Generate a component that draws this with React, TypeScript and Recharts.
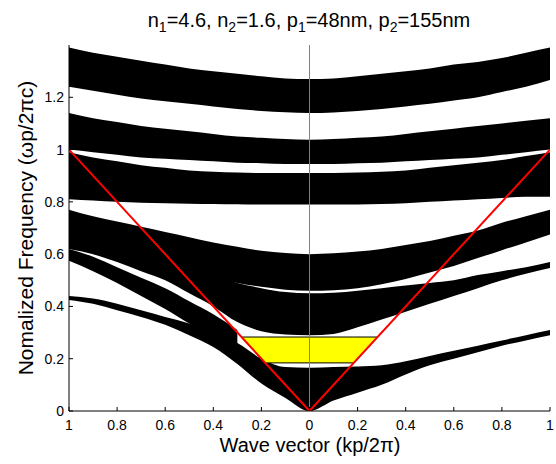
import React from 'react';
import {
  ComposedChart,
  Area,
  Line,
  XAxis,
  YAxis,
  ReferenceLine,
} from 'recharts';

// wave vector grid (left half of the plot is labelled with |k|)
const kGrid = [-1, -0.9, -0.8, -0.7, -0.6, -0.5, -0.4, -0.3, -0.2, -0.1, 0, 0.1, 0.2, 0.3, 0.4, 0.5, 0.6, 0.7, 0.8, 0.9, 1];

// band edges, one value per kGrid point (null = band absent)
const band1Lo = [1.24, 1.225, 1.21, 1.195, 1.185, 1.175, 1.165, 1.155, 1.148, 1.143, 1.14, 1.142, 1.148, 1.155, 1.165, 1.175, 1.188, 1.2, 1.22, 1.24, 1.266];
const band1Hi = [1.39, 1.37, 1.355, 1.34, 1.325, 1.31, 1.3, 1.29, 1.28, 1.272, 1.27, 1.272, 1.28, 1.29, 1.3, 1.31, 1.325, 1.335, 1.35, 1.37, 1.39];
const band2Lo = [1.0, 0.99, 0.98, 0.97, 0.965, 0.96, 0.955, 0.95, 0.948, 0.945, 0.945, 0.945, 0.948, 0.95, 0.955, 0.96, 0.965, 0.97, 0.98, 0.99, 1.0];
const band2Hi = [1.14, 1.12, 1.105, 1.09, 1.08, 1.07, 1.06, 1.05, 1.045, 1.04, 1.038, 1.04, 1.045, 1.05, 1.06, 1.07, 1.08, 1.09, 1.1, 1.11, 1.12];
const band3Lo = [0.81, 0.805, 0.8, 0.797, 0.795, 0.793, 0.792, 0.791, 0.79, 0.79, 0.79, 0.79, 0.79, 0.792, 0.795, 0.8, 0.805, 0.81, 0.815, 0.82, 0.82];
const band3Hi = [0.99, 0.97, 0.955, 0.94, 0.93, 0.92, 0.915, 0.912, 0.91, 0.91, 0.91, 0.91, 0.912, 0.915, 0.92, 0.93, 0.94, 0.95, 0.96, 0.975, 0.99];
const band4aLo = [0.66, 0.635, 0.61, 0.585, 0.56, 0.535, 0.51, 0.49, 0.475, 0.464, 0.46, 0.462, 0.47, 0.485, 0.505, 0.53, 0.555, 0.585, 0.615, 0.645, 0.675];
const band4aHi = [0.77, 0.745, 0.725, 0.705, 0.685, 0.665, 0.645, 0.628, 0.613, 0.604, 0.6, 0.603, 0.61, 0.62, 0.635, 0.65, 0.67, 0.69, 0.72, 0.745, 0.77];
const band4bLo = [0.62, 0.6, 0.57, 0.535, 0.5, 0.45, 0.4, 0.34, 0.305, 0.293, 0.29, 0.295, 0.32, 0.35, 0.38, 0.41, 0.44, 0.47, 0.5, 0.525, 0.547];
const band4bHi = [0.7, 0.67, 0.64, 0.61, 0.58, 0.55, 0.52, 0.49, 0.47, 0.455, 0.45, 0.452, 0.46, 0.47, 0.48, 0.49, 0.5, 0.52, 0.535, 0.55, 0.57];
const band5Lo = [0.425, 0.41, 0.385, 0.36, 0.33, 0.29, 0.245, 0.18, 0.105, 0.05, 0, 0.04, 0.07, 0.1, 0.14, 0.175, 0.2, 0.225, 0.25, 0.27, 0.29];
const band5Hi = [0.44, 0.43, 0.41, 0.385, 0.36, 0.335, 0.3, 0.26, 0.2, 0.168, 0.165, 0.168, 0.17, 0.175, 0.19, 0.21, 0.23, 0.25, 0.27, 0.29, 0.31];
const band6Lo = [0.575, 0.535, 0.49, 0.44, 0.39, 0.335, 0.29, 0.25, null, null, null, null, null, null, null, null, null, null, null, null, null];
const band6Hi = [0.62, 0.59, 0.55, 0.51, 0.47, 0.42, 0.37, 0.31, null, null, null, null, null, null, null, null, null, null, null, null, null];

// light lines and the omnidirectional gap
const lightK = [-1, 0, 1];
const lightF = [1, 0, 1];
const gapK = [-0.283, -0.184, 0.184, 0.283];
const gapLo = [0.283, 0.184, 0.184, 0.283];
const gapHi = [0.283, 0.283, 0.283, 0.283];

const xTicks = [-1, -0.8, -0.6, -0.4, -0.2, 0, 0.2, 0.4, 0.6, 0.8, 1];
const yTicks = [0, 0.2, 0.4, 0.6, 0.8, 1, 1.2];

const bands = [
  [band1Lo, band1Hi],
  [band2Lo, band2Hi],
  [band3Lo, band3Hi],
  [band4aLo, band4aHi],
  [band4bLo, band4bHi],
  [band5Lo, band5Hi],
  [band6Lo, band6Hi],
];

type Row = { k: number; [key: string]: any };

const buildRows = (): Row[] => {
  const map = new Map<number, Row>();
  const get = (k: number) => {
    if (!map.has(k)) map.set(k, { k });
    return map.get(k)!;
  };
  kGrid.forEach((k, i) => {
    const r = get(k);
    bands.forEach(([lo, hi], b) => {
      if (lo[i] != null && hi[i] != null) r[`b${b}`] = [lo[i], hi[i]];
    });
  });
  lightK.forEach((k, i) => (get(k).light = lightF[i]));
  gapK.forEach((k, i) => (get(k).gap = [gapLo[i], gapHi[i]]));
  return [...map.values()].sort((a, b) => a.k - b.k);
};

const fmt = (v: number) => String(Math.round(Math.abs(v) * 10) / 10);

const FONT = 'Arial, "Liberation Sans", Helvetica, sans-serif';

const App = () => {
  const data = buildRows();
  return (
    <div style={{ width: 556, height: 464, position: 'relative', fontFamily: FONT }}>
      <style>{'body{margin:0;background:#fff}'}</style>
      <ComposedChart
        width={556}
        height={464}
        data={data}
        margin={{ top: 45, right: 6, bottom: 0, left: 29 }}
      >
        {bands.map((_, b) => (
          <Area
            key={b}
            dataKey={`b${b}`}
            type="monotone"
            stroke="none"
            fill="#000"
            fillOpacity={1}
            connectNulls
            isAnimationActive={false}
            dot={false}
            activeDot={false}
          />
        ))}
        <Area
          dataKey="gap"
          type="linear"
          stroke="#000"
          strokeWidth={1}
          fill="#ffff00"
          fillOpacity={1}
          connectNulls
          isAnimationActive={false}
          dot={false}
          activeDot={false}
        />
        <ReferenceLine x={0} stroke="#808080" strokeWidth={1} />
        <Line
          dataKey="light"
          type="linear"
          stroke="#ff0000"
          strokeWidth={2}
          connectNulls
          dot={false}
          activeDot={false}
          isAnimationActive={false}
        />
        <XAxis
          dataKey="k"
          type="number"
          domain={[-1, 1]}
          ticks={xTicks}
          tickFormatter={fmt}
          allowDataOverflow
          height={53}
          tickSize={-4}
          tickMargin={13}
          axisLine={{ stroke: '#000' }}
          tickLine={{ stroke: '#000' }}
          tick={{ fill: '#000', fontSize: 14, fontFamily: FONT }}
          interval={0}
        />
        <YAxis
          type="number"
          domain={[0, 1.4]}
          ticks={yTicks}
          tickFormatter={fmt}
          allowDataOverflow
          width={40}
          tickSize={-4}
          tickMargin={9}
          axisLine={{ stroke: '#000' }}
          tickLine={{ stroke: '#000' }}
          tick={{ fill: '#000', fontSize: 14, fontFamily: FONT }}
          interval={0}
        />
      </ComposedChart>
      <svg width={556} height={464} style={{ position: 'absolute', left: 0, top: 0, pointerEvents: 'none' }}>
        <text x={309} y={27} textAnchor="middle" fontSize={20} fontFamily={FONT} fill="#000">
          n<tspan fontSize={14} dy={5}>1</tspan>
          <tspan dy={-5}>=4.6, n</tspan>
          <tspan fontSize={14} dy={5}>2</tspan>
          <tspan dy={-5}>=1.6, p</tspan>
          <tspan fontSize={14} dy={5}>1</tspan>
          <tspan dy={-5}>=48nm, p</tspan>
          <tspan fontSize={14} dy={5}>2</tspan>
          <tspan dy={-5}>=155nm</tspan>
        </text>
        <text x={310} y={452} textAnchor="middle" fontSize={20} fontFamily={FONT} fill="#000">
          Wave vector (kp/2π)
        </text>
        <text
          x={0}
          y={0}
          transform="translate(33,228) rotate(-90)"
          textAnchor="middle"
          fontSize={21}
          fontFamily={FONT}
          fill="#000"
        >
          Nomalized Frequency (ωp/2πc)
        </text>
      </svg>
    </div>
  );
};

export default App;
